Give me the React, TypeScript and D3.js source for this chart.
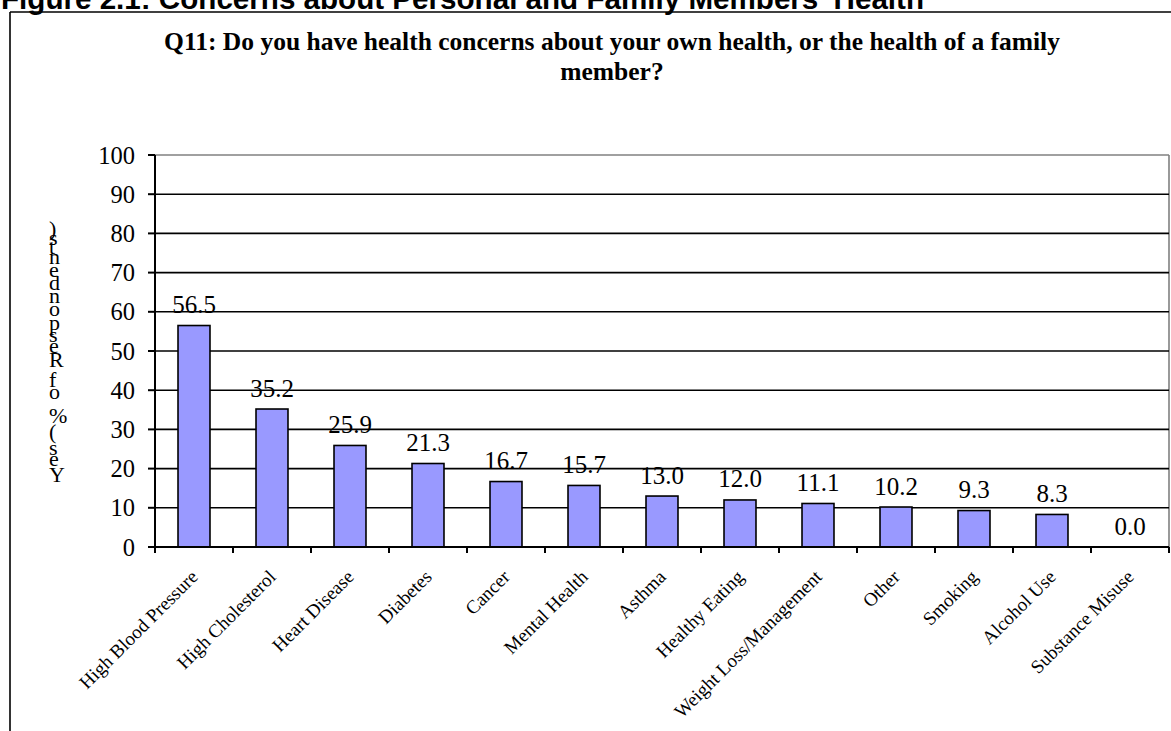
import React from "react";
import * as d3 from "d3";

// ---------- data ----------
const categories: string[] = [
  "High Blood Pressure",
  "High Cholesterol",
  "Heart Disease",
  "Diabetes",
  "Cancer",
  "Mental Health",
  "Asthma",
  "Healthy Eating",
  "Weight Loss/Management",
  "Other",
  "Smoking",
  "Alcohol Use",
  "Substance Misuse",
];
const values: number[] = [56.5, 35.2, 25.9, 21.3, 16.7, 15.7, 13.0, 12.0, 11.1, 10.2, 9.3, 8.3, 0.0];
const yTicks: number[] = [0, 10, 20, 30, 40, 50, 60, 70, 80, 90, 100];
const figureCaption = "Figure 2.1: Concerns about Personal and Family Members' Health";
const titleLines: string[] = [
  "Q11: Do you have health concerns about your own health, or the health of a family",
  "member?",
];
const yAxisLabel = "Yes (% of Respondents)";

// Times-like advance widths (em) used to stack the y-label glyphs
const timesWidths: Record<string, number> = {
  Y: 0.722, e: 0.444, s: 0.389, " ": 0.25, "(": 0.333, "%": 0.833, o: 0.5, f: 0.333,
  R: 0.667, p: 0.5, n: 0.5, d: 0.5, t: 0.278, ")": 0.333,
};

const W = 1171;
const H = 731;
const M = { left: 155, right: 1169, top: 155, bottom: 547 };
const SERIF = "'Liberation Serif', 'Times New Roman', serif";
const SANS = "'Liberation Sans', Arial, sans-serif";

export default function App() {
  const x = d3
    .scaleBand<string>()
    .domain(categories)
    .range([M.left, M.right])
    .paddingInner(0.59)
    .paddingOuter(0.295);
  const xTick = d3.scaleBand<string>().domain(categories).range([M.left, M.right]).padding(0);
  const y = d3.scaleLinear().domain([0, 100]).range([M.bottom, M.top]);
  const step = xTick.step();

  // y-label glyph stacking (bottom to top), upright glyphs as in the reference
  const chars = yAxisLabel.split("");
  const widths = chars.map((c) => timesWidths[c] ?? 0.5);
  const cum: number[] = [];
  let acc = 0;
  widths.forEach((w) => {
    cum.push(acc + w / 2);
    acc += w;
  });
  const yStart = 474;
  const yEnd = 228;
  const span = cum[cum.length - 1] - cum[0];
  const glyphY = cum.map((c) => yStart - ((c - cum[0]) / span) * (yStart - yEnd) + 7.5);
  const glyphX = chars.map(() => 49);

  return (
    <svg
      width={W}
      height={H}
      style={{ position: "absolute", left: 0, top: 0, background: "#fff" }}
      viewBox={`0 0 ${W} ${H}`}
    >
      <rect x={0} y={0} width={W} height={H} fill="#fff" />
      {/* figure caption (cut off at top) */}
      <text x={1} y={8.5} fontFamily={SANS} fontWeight="bold" fontSize={29.6} fill="#000">
        {figureCaption}
      </text>
      {/* outer frame */}
      <line x1={10} y1={12} x2={W + 5} y2={12} stroke="#000" strokeWidth={1.6} />
      <line x1={10} y1={12} x2={10} y2={H + 5} stroke="#000" strokeWidth={1.6} />

      {/* chart title */}
      {titleLines.map((t, i) => (
        <text
          key={i}
          x={612}
          y={50 + i * 30}
          textAnchor="middle"
          fontFamily={SERIF}
          fontWeight="bold"
          fontSize={25.5}
          fill="#000"
        >
          {t}
        </text>
      ))}

      {/* plot area border (grey top/right) */}
      <line x1={M.left} y1={y(100)} x2={M.right} y2={y(100)} stroke="#808080" strokeWidth={1.6} />
      <line x1={M.right} y1={y(100)} x2={M.right} y2={M.bottom} stroke="#808080" strokeWidth={1.6} />

      {/* gridlines */}
      {yTicks
        .filter((t) => t !== 0 && t !== 100)
        .map((t) => (
          <line key={t} x1={M.left} y1={y(t)} x2={M.right} y2={y(t)} stroke="#000" strokeWidth={1.6} />
        ))}

      {/* bars */}
      {categories.map((c, i) =>
        values[i] > 0 ? (
          <rect
            key={c}
            x={x(c)}
            y={y(values[i])}
            width={x.bandwidth()}
            height={M.bottom - y(values[i])}
            fill="#9999FF"
            stroke="#000"
            strokeWidth={1.6}
          />
        ) : null
      )}

      {/* value labels */}
      {categories.map((c, i) => (
        <text
          key={c}
          x={(x(c) as number) + x.bandwidth() / 2}
          y={y(values[i]) - 12.5}
          textAnchor="middle"
          fontFamily={SERIF}
          fontSize={25}
          fill="#000"
        >
          {values[i].toFixed(1)}
        </text>
      ))}

      {/* y axis */}
      <line x1={M.left} y1={M.top} x2={M.left} y2={M.bottom} stroke="#000" strokeWidth={2} />
      {yTicks.map((t) => (
        <g key={t}>
          <line x1={M.left - 7} y1={y(t)} x2={M.left} y2={y(t)} stroke="#000" strokeWidth={2} />
          <text
            x={135}
            y={y(t)}
            dy="0.35em"
            textAnchor="end"
            fontFamily={SERIF}
            fontSize={24.5}
            fill="#000"
          >
            {t}
          </text>
        </g>
      ))}

      {/* x axis */}
      <line x1={M.left - 7} y1={M.bottom} x2={M.right} y2={M.bottom} stroke="#000" strokeWidth={2} />
      {categories.map((c) => (
        <line
          key={c}
          x1={xTick(c) as number}
          y1={M.bottom}
          x2={xTick(c) as number}
          y2={M.bottom + 6}
          stroke="#000"
          strokeWidth={2}
        />
      ))}
      <line x1={M.right} y1={M.bottom} x2={M.right} y2={M.bottom + 6} stroke="#000" strokeWidth={2} />

      {/* x category labels */}
      {categories.map((c) => {
        const cx = (xTick(c) as number) + step / 2 + 5;
        const cy = 578;
        return (
          <text
            key={c}
            x={cx}
            y={cy}
            transform={`rotate(-45 ${cx} ${cy})`}
            textAnchor="end"
            fontFamily={SERIF}
            fontSize={19}
            fill="#000"
          >
            {c}
          </text>
        );
      })}

      {/* y axis label: one text, upright glyphs stacked bottom-to-top */}
      <text
        x={glyphX.join(" ")}
        y={glyphY.map((v) => v.toFixed(1)).join(" ")}
        fontFamily={SERIF}
        fontSize={22}
        fill="#000"
      >
        {yAxisLabel}
      </text>
    </svg>
  );
}
